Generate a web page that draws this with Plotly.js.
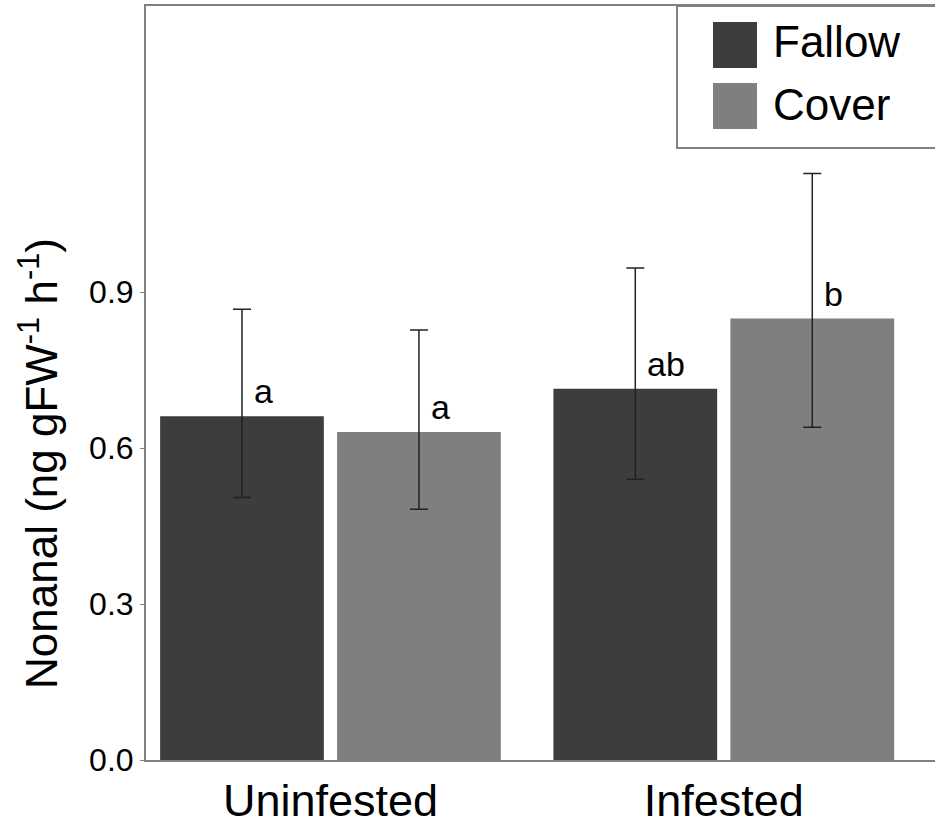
<!DOCTYPE html>
<html>
<head>
<meta charset="utf-8">
<script src="https://cdn.plot.ly/plotly-3.0.1.min.js"></script>
<style>html,body{margin:0;padding:0;background:#fff;}#chart{width:935px;height:829px;}</style>
</head>
<body>
<div id="chart"></div>
<script>
// ---- data ----
const categories = ['Uninfested', 'Infested'];
const seriesNames = ['Fallow', 'Cover'];
const fallowValues = [0.661, 0.714];
const fallowErrPlus = [0.206, 0.232];
const fallowErrMinus = [0.156, 0.174];
const coverValues = [0.631, 0.849];
const coverErrPlus = [0.196, 0.279];
const coverErrMinus = [0.149, 0.209];
const fallowLetters = ['a', 'ab'];
const coverLetters = ['a', 'b'];
const yTickVals = [0, 0.3, 0.6, 0.9];
const yTickText = ['0.0', '0.3', '0.6', '0.9'];

// ---- styling ----
const FONT = 'Liberation Sans, Arial, Helvetica, sans-serif';
const colors = ['#3d3d3d', '#7f7f7f'];
const frameColor = '#808080';
const W = 935, H = 829;
const M = {l: 146, r: 0, t: 6, b: 69};
const pw = W - M.l - M.r, ph = H - M.t - M.b;
const px2x = px => (px - M.l) / pw;
const px2y = py => (H - M.b - py) / ph;

const bargap = 0.10, bargroupgap = 0.075;
const slot = (1 - bargap) / 2;

function errStyle(plus, minus) {
  return {type: 'data', symmetric: false, array: plus, arrayminus: minus,
          color: '#222222', thickness: 1.5, width: 9};
}

const traces = [
  {type: 'bar', name: seriesNames[0], x: categories, y: fallowValues,
   marker: {color: colors[0]}, error_y: errStyle(fallowErrPlus, fallowErrMinus),
   showlegend: false, hoverinfo: 'none'},
  {type: 'bar', name: seriesNames[1], x: categories, y: coverValues,
   marker: {color: colors[1]}, error_y: errStyle(coverErrPlus, coverErrMinus),
   showlegend: false, hoverinfo: 'none'}
];

const annotations = [];
[fallowLetters, coverLetters].forEach((letters, s) => {
  const vals = s === 0 ? fallowValues : coverValues;
  const off = (s === 0 ? -1 : 1) * slot / 2;
  letters.forEach((t, i) => {
    annotations.push({x: i + off, y: vals[i], xref: 'x', yref: 'y', text: t,
      showarrow: false, xanchor: 'left', yanchor: 'bottom', xshift: 10, yshift: 4,
      font: {family: FONT, size: 34, color: '#000'}});
  });
});

// y axis title (placed as rotated text, off-centre as in the reference)
annotations.push({x: px2x(38), y: px2y(464), xref: 'paper', yref: 'paper',
  text: 'Nonanal (ng gFW<sup>-1</sup> h<sup>-1</sup>)', textangle: -90,
  showarrow: false, xanchor: 'center', yanchor: 'middle',
  font: {family: FONT, size: 44, color: '#000'}});

// custom legend
const shapes = [
  {type: 'rect', xref: 'paper', yref: 'paper', x0: px2x(677), x1: 1.2, y0: px2y(148), y1: 1,
   line: {color: frameColor, width: 2}, fillcolor: 'rgba(0,0,0,0)'}
];
const swatchTops = [22, 83];
const textCenters = [42, 105];
seriesNames.forEach((n, s) => {
  shapes.push({type: 'rect', xref: 'paper', yref: 'paper',
    x0: px2x(713), x1: px2x(757), y0: px2y(swatchTops[s] + 46), y1: px2y(swatchTops[s]),
    line: {width: 0}, fillcolor: colors[s]});
  annotations.push({x: px2x(771), y: px2y(textCenters[s]), xref: 'paper', yref: 'paper',
    text: n, showarrow: false, xanchor: 'left', yanchor: 'middle',
    font: {family: FONT, size: 44, color: '#000'}});
});

const layout = {
  width: W, height: H, margin: M,
  paper_bgcolor: '#fff', plot_bgcolor: '#fff',
  barmode: 'group', bargap: bargap, bargroupgap: bargroupgap,
  showlegend: false,
  xaxis: {type: 'category', range: [-0.469, 1.537], showgrid: false, zeroline: false,
    showline: true, mirror: true, linecolor: frameColor, linewidth: 2, ticks: '',
    tickfont: {family: FONT, size: 45, color: '#000'}, ticklabelstandoff: 0, fixedrange: true},
  yaxis: {range: [0, 1.45], showgrid: false, zeroline: false, showline: true,
    linecolor: frameColor, linewidth: 2, ticks: 'outside', ticklen: 4, tickcolor: frameColor,
    tickwidth: 1, tickvals: yTickVals, ticktext: yTickText,
    tickfont: {family: FONT, size: 32, color: '#000'}, fixedrange: true},
  annotations: annotations,
  shapes: shapes
};

Plotly.newPlot('chart', traces, layout, {displayModeBar: false, staticPlot: true});
</script>
</body>
</html>
